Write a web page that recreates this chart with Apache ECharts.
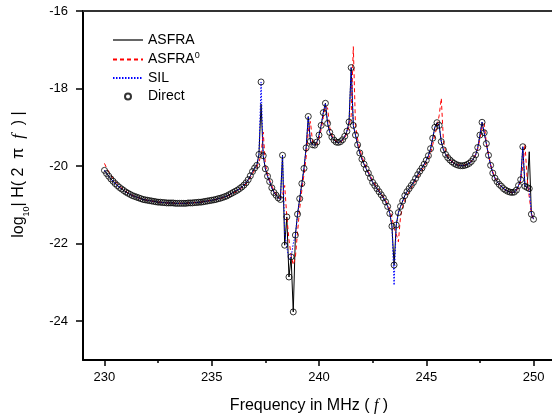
<!DOCTYPE html>
<html><head><meta charset="utf-8">
<script src="https://cdn.jsdelivr.net/npm/echarts@6/dist/echarts.min.js"></script>
<style>html,body{margin:0;padding:0;background:#fff}#c{width:552px;height:416px}</style>
</head><body><div id="c"></div>
<script>
// Frequency grid (MHz)
const freq = [
230.0,230.1,230.2,230.3,230.4,230.5,230.6,230.7,230.8,230.9,
231.0,231.1,231.2,231.3,231.4,231.5,231.6,231.7,231.8,231.9,
232.0,232.1,232.2,232.3,232.4,232.5,232.6,232.7,232.8,232.9,
233.0,233.1,233.2,233.3,233.4,233.5,233.6,233.7,233.8,233.9,
234.0,234.1,234.2,234.3,234.4,234.5,234.6,234.7,234.8,234.9,
235.0,235.1,235.2,235.3,235.4,235.5,235.6,235.7,235.8,235.9,
236.0,236.1,236.2,236.3,236.4,236.5,236.6,236.7,236.8,236.9,
237.0,237.1,237.2,237.3,237.4,237.5,237.6,237.7,237.8,237.9,
238.0,238.1,238.2,238.3,238.4,238.5,238.6,238.7,238.8,238.9,
239.0,239.1,239.2,239.3,239.4,239.5,239.6,239.7,239.8,239.9,
240.0,240.1,240.2,240.3,240.4,240.5,240.6,240.7,240.8,240.9,
241.0,241.1,241.2,241.3,241.4,241.5,241.6,241.7,241.8,241.9,
242.0,242.1,242.2,242.3,242.4,242.5,242.6,242.7,242.8,242.9,
243.0,243.1,243.2,243.3,243.4,243.5,243.6,243.7,243.8,243.9,
244.0,244.1,244.2,244.3,244.4,244.5,244.6,244.7,244.8,244.9,
245.0,245.1,245.2,245.3,245.4,245.5,245.6,245.7,245.8,245.9,
246.0,246.1,246.2,246.3,246.4,246.5,246.6,246.7,246.8,246.9,
247.0,247.1,247.2,247.3,247.4,247.5,247.6,247.7,247.8,247.9,
248.0,248.1,248.2,248.3,248.4,248.5,248.6,248.7,248.8,248.9,
249.0,249.1,249.2,249.3,249.4,249.5,249.6,249.7,249.8,249.9,
250.0];

// Direct (circles)
const direct = [
-20.11,-20.19,-20.26,-20.33,-20.39,-20.45,-20.50,-20.55,-20.59,-20.63,
-20.67,-20.70,-20.73,-20.76,-20.78,-20.80,-20.82,-20.84,-20.86,-20.87,
-20.88,-20.89,-20.90,-20.91,-20.92,-20.93,-20.93,-20.94,-20.94,-20.95,
-20.95,-20.95,-20.95,-20.96,-20.96,-20.96,-20.96,-20.96,-20.96,-20.95,
-20.95,-20.95,-20.94,-20.94,-20.93,-20.93,-20.92,-20.91,-20.90,-20.89,
-20.88,-20.87,-20.86,-20.84,-20.83,-20.81,-20.79,-20.77,-20.74,-20.71,
-20.68,-20.65,-20.62,-20.58,-20.54,-20.49,-20.43,-20.35,-20.25,-20.14,
-20.05,-19.98,-19.70,-17.83,-19.73,-20.07,-20.26,-20.40,-20.56,-20.68,
-20.75,-20.82,-20.86,-19.72,-22.04,-21.31,-22.86,-22.34,-23.76,-21.78,
-21.24,-20.84,-20.45,-20.06,-19.53,-18.72,-19.36,-19.45,-19.46,-19.38,
-19.20,-18.95,-18.62,-18.38,-18.90,-19.13,-19.25,-19.33,-19.38,-19.39,
-19.37,-19.32,-19.23,-19.10,-18.86,-17.46,-18.95,-19.20,-19.45,-19.66,
-19.82,-19.95,-20.07,-20.18,-20.30,-20.42,-20.50,-20.58,-20.66,-20.74,
-20.82,-20.92,-21.04,-21.22,-21.55,-22.55,-21.52,-21.20,-21.04,-20.90,
-20.76,-20.66,-20.58,-20.50,-20.42,-20.32,-20.22,-20.13,-20.05,-19.95,
-19.85,-19.73,-19.55,-19.28,-19.00,-18.88,-18.95,-19.37,-19.58,-19.70,
-19.78,-19.84,-19.89,-19.93,-19.96,-19.98,-19.99,-19.99,-19.98,-19.96,
-19.93,-19.88,-19.81,-19.71,-19.52,-19.20,-18.87,-19.14,-19.42,-19.72,
-19.98,-20.18,-20.31,-20.40,-20.47,-20.52,-20.58,-20.62,-20.65,-20.67,
-20.68,-20.67,-20.62,-20.50,-20.35,-19.50,-20.52,-20.55,-20.58,-21.24,
-21.37];

// ASFRA (black solid)
const asfra = [
-20.11,-20.19,-20.26,-20.33,-20.39,-20.45,-20.50,-20.55,-20.59,-20.63,
-20.67,-20.70,-20.73,-20.76,-20.78,-20.80,-20.82,-20.84,-20.86,-20.87,
-20.88,-20.89,-20.90,-20.91,-20.92,-20.93,-20.93,-20.94,-20.94,-20.95,
-20.95,-20.95,-20.95,-20.96,-20.96,-20.96,-20.96,-20.96,-20.96,-20.95,
-20.95,-20.95,-20.94,-20.94,-20.93,-20.93,-20.92,-20.91,-20.90,-20.89,
-20.88,-20.87,-20.86,-20.84,-20.83,-20.81,-20.79,-20.77,-20.74,-20.71,
-20.68,-20.65,-20.62,-20.58,-20.54,-20.49,-20.43,-20.35,-20.25,-20.14,
-20.05,-19.98,-19.70,-18.40,-19.73,-20.07,-20.26,-20.40,-20.56,-20.68,
-20.75,-20.82,-20.86,-19.72,-22.04,-21.31,-22.86,-22.34,-23.76,-21.78,
-21.24,-20.84,-20.45,-20.06,-19.53,-18.72,-19.36,-19.45,-19.46,-19.38,
-19.20,-18.95,-18.62,-18.38,-18.90,-19.13,-19.25,-19.33,-19.38,-19.39,
-19.37,-19.32,-19.23,-19.10,-18.86,-17.46,-18.95,-19.20,-19.45,-19.66,
-19.82,-19.95,-20.07,-20.18,-20.30,-20.42,-20.50,-20.58,-20.66,-20.74,
-20.82,-20.92,-21.04,-21.22,-21.55,-22.55,-21.52,-21.20,-21.04,-20.90,
-20.76,-20.66,-20.58,-20.50,-20.42,-20.32,-20.22,-20.13,-20.05,-19.95,
-19.85,-19.73,-19.55,-19.28,-19.00,-18.88,-18.95,-19.37,-19.58,-19.70,
-19.78,-19.84,-19.89,-19.93,-19.96,-19.98,-19.99,-19.99,-19.98,-19.96,
-19.93,-19.88,-19.81,-19.71,-19.52,-19.20,-18.87,-19.14,-19.42,-19.72,
-19.98,-20.18,-20.31,-20.40,-20.47,-20.52,-20.58,-20.62,-20.65,-20.67,
-20.68,-20.67,-20.62,-20.50,-20.35,-19.50,-20.52,-20.55,-19.63,-21.24,
-21.37];

// ASFRA0 (red dashed)
const asfra0 = [
-19.93,-20.05,-20.15,-20.24,-20.32,-20.39,-20.45,-20.51,-20.56,-20.61,
-20.65,-20.69,-20.72,-20.75,-20.78,-20.80,-20.82,-20.84,-20.86,-20.87,
-20.88,-20.89,-20.90,-20.91,-20.92,-20.93,-20.93,-20.94,-20.94,-20.95,
-20.95,-20.95,-20.95,-20.96,-20.96,-20.96,-20.96,-20.96,-20.96,-20.95,
-20.95,-20.95,-20.94,-20.94,-20.93,-20.93,-20.92,-20.91,-20.90,-20.89,
-20.88,-20.87,-20.86,-20.85,-20.84,-20.82,-20.80,-20.78,-20.76,-20.73,
-20.70,-20.67,-20.64,-20.60,-20.56,-20.52,-20.46,-20.39,-20.30,-20.20,
-20.10,-20.02,-19.90,-19.70,-19.12,-19.95,-20.20,-20.36,-20.50,-20.63,
-20.72,-20.79,-20.84,-20.75,-20.50,-21.30,-21.90,-22.30,-22.55,-22.35,
-21.70,-21.10,-20.62,-20.22,-19.78,-19.10,-18.85,-19.38,-19.47,-19.43,
-19.30,-19.05,-18.75,-18.45,-18.50,-19.00,-19.20,-19.30,-19.36,-19.39,
-19.38,-19.34,-19.27,-19.16,-18.98,-18.70,-16.92,-18.95,-19.30,-19.55,
-19.75,-19.90,-20.03,-20.14,-20.26,-20.37,-20.46,-20.55,-20.63,-20.71,
-20.79,-20.88,-20.98,-21.12,-21.32,-21.60,-21.75,-21.95,-21.30,-21.05,
-20.88,-20.76,-20.66,-20.57,-20.48,-20.39,-20.29,-20.20,-20.11,-20.02,
-19.92,-19.82,-19.67,-19.45,-19.20,-18.98,-18.70,-18.25,-19.35,-19.62,
-19.74,-19.82,-19.88,-19.92,-19.95,-19.97,-19.98,-19.98,-19.97,-19.95,
-19.92,-19.87,-19.80,-19.70,-19.55,-19.30,-19.00,-18.90,-19.40,-19.70,
-19.96,-20.15,-20.29,-20.39,-20.47,-20.53,-20.58,-20.62,-20.65,-20.67,
-20.68,-20.67,-20.63,-20.55,-20.38,-20.00,-19.43,-20.30,-20.80,-21.20,
-21.40];

// SIL (blue dotted)
const sil = [
-20.11,-20.19,-20.26,-20.33,-20.39,-20.45,-20.50,-20.55,-20.59,-20.63,
-20.67,-20.70,-20.73,-20.76,-20.78,-20.80,-20.82,-20.84,-20.86,-20.87,
-20.88,-20.89,-20.90,-20.91,-20.92,-20.93,-20.93,-20.94,-20.94,-20.95,
-20.95,-20.95,-20.95,-20.96,-20.96,-20.96,-20.96,-20.96,-20.96,-20.95,
-20.95,-20.95,-20.94,-20.94,-20.93,-20.93,-20.92,-20.91,-20.90,-20.89,
-20.88,-20.87,-20.86,-20.84,-20.83,-20.81,-20.79,-20.77,-20.74,-20.71,
-20.68,-20.65,-20.62,-20.58,-20.54,-20.49,-20.43,-20.35,-20.25,-20.14,
-20.05,-19.98,-19.70,-17.83,-19.73,-20.07,-20.26,-20.40,-20.56,-20.68,
-20.75,-20.82,-20.86,-19.72,-21.70,-22.10,-22.40,-22.35,-22.00,-21.78,
-21.24,-20.84,-20.45,-20.06,-19.53,-18.72,-19.36,-19.45,-19.46,-19.38,
-19.20,-18.95,-18.62,-18.38,-18.90,-19.13,-19.25,-19.33,-19.38,-19.39,
-19.37,-19.32,-19.23,-19.10,-18.86,-17.46,-18.95,-19.20,-19.45,-19.66,
-19.82,-19.95,-20.07,-20.18,-20.30,-20.42,-20.50,-20.58,-20.66,-20.74,
-20.82,-20.92,-21.04,-21.22,-21.55,-23.07,-21.52,-21.20,-21.04,-20.90,
-20.76,-20.66,-20.58,-20.50,-20.42,-20.32,-20.22,-20.13,-20.05,-19.95,
-19.85,-19.73,-19.55,-19.28,-19.00,-18.88,-18.95,-19.37,-19.58,-19.70,
-19.78,-19.84,-19.89,-19.93,-19.96,-19.98,-19.99,-19.99,-19.98,-19.96,
-19.93,-19.88,-19.81,-19.71,-19.52,-19.20,-18.87,-19.14,-19.42,-19.72,
-19.98,-20.18,-20.31,-20.40,-20.47,-20.52,-20.58,-20.62,-20.65,-20.67,
-20.68,-20.67,-20.62,-20.50,-20.35,-19.50,-20.52,-20.55,-20.58,-21.24,
-21.37];

const xTicks = [230, 235, 240, 245, 250];
const xMinorTicks = [232.5, 237.5, 242.5, 247.5];
const yTicks = [-24, -22, -20, -18, -16];

const FONT = '"Liberation Sans", Arial, sans-serif';
const SERIF = '"Liberation Serif", "Times New Roman", serif';
const pairs = arr => freq.map((f, i) => [f, arr[i]]);
const hideSym = {color: 'rgba(0,0,0,0)', borderWidth: 0, borderColor: 'rgba(0,0,0,0)'};

const chart = echarts.init(document.getElementById('c'), null, {renderer: 'canvas'});
chart.setOption({
  animation: false,
  grid: {left: 83, top: 11, right: -3, bottom: 56, show: false, outerBoundsMode: 'none', containLabel: false},
  legend: {
    orient: 'vertical', left: 107, top: 28, padding: 5,
    itemWidth: 30, itemHeight: 6, itemGap: 4.5,
    data: [
      {name: 'ASFRA', lineStyle: {color: '#666', width: 2}, itemStyle: hideSym},
      {name: 'ASFRA0', itemStyle: hideSym},
      {name: 'SIL', itemStyle: hideSym},
      {name: 'Direct'}
    ],
    formatter: n => n === 'ASFRA0' ? '{t|ASFRA}{s|0}' : '{t|' + n + '}',
    textStyle: {
      color: '#000', fontFamily: FONT, fontSize: 14,
      rich: {
        t: {fontFamily: FONT, fontSize: 14, color: '#000', lineHeight: 16},
        s: {fontFamily: FONT, fontSize: 9, color: '#000', verticalAlign: 'top', lineHeight: 8}
      }
    }
  },
  xAxis: [{
    type: 'value', min: 229, max: 251, position: 'bottom',
    axisLine: {show: true, onZero: false, lineStyle: {color: '#000', width: 2}},
    axisTick: {show: true, customValues: xTicks, length: 6, lineStyle: {color: '#000', width: 1.5}},
    axisLabel: {customValues: xTicks, margin: 11, color: '#000', fontSize: 13, fontFamily: FONT},
    splitLine: {show: false},
    name: '{n|Frequency in MHz ( }{i|f}{n| )}', nameLocation: 'middle', nameGap: 38,
    nameTextStyle: {
      color: '#000', fontSize: 16, fontFamily: FONT, padding: [0, 20, 0, 0],
      rich: {
        n: {fontFamily: FONT, fontSize: 16, color: '#000'},
        i: {fontFamily: SERIF, fontStyle: 'italic', fontSize: 16, color: '#000'}
      }
    }
  }, {
    type: 'value', min: 229, max: 251, position: 'bottom',
    axisLine: {show: false, onZero: false},
    axisTick: {show: true, customValues: xMinorTicks, length: 3, lineStyle: {color: '#000', width: 1.5}},
    axisLabel: {show: false}, splitLine: {show: false}
  }, {
    type: 'value', min: 229, max: 251, position: 'top',
    axisLine: {show: true, onZero: false, lineStyle: {color: '#333', width: 2}},
    axisTick: {show: false}, axisLabel: {show: false}, splitLine: {show: false}
  }],
  yAxis: {
    type: 'value', min: -25, max: -16,
    axisLine: {show: true, onZero: false, lineStyle: {color: '#000', width: 2}},
    axisTick: {show: true, customValues: yTicks, length: 7, lineStyle: {color: '#000', width: 1.5}},
    axisLabel: {customValues: yTicks, margin: 15, color: '#000', fontSize: 13, fontFamily: FONT},
    splitLine: {show: false},
    name: '{n|log}{sub|10}{n|| H( 2  π  }{i|f}{n|  ) |}', nameLocation: 'middle', nameGap: 52, nameRotate: 90,
    nameTextStyle: {
      color: '#000', fontSize: 16, fontFamily: FONT, padding: [0, 0, 0, 22],
      rich: {
        n: {fontFamily: FONT, fontSize: 16, color: '#000', lineHeight: 24},
        sub: {fontFamily: FONT, fontSize: 9, color: '#000', verticalAlign: 'bottom', lineHeight: 12},
        i: {fontFamily: SERIF, fontStyle: 'italic', fontSize: 17, color: '#000', lineHeight: 24}
      }
    }
  },
  series: [
    {name: 'ASFRA', type: 'line', data: pairs(asfra), symbol: 'none', z: 2,
     lineStyle: {color: '#000', width: 1}, itemStyle: {color: '#000'}},
    {name: 'ASFRA0', type: 'line', data: pairs(asfra0), symbol: 'none', z: 3,
     lineStyle: {color: '#ff0000', width: 1, type: [4, 3]}, itemStyle: {color: '#ff0000'}},
    {name: 'SIL', type: 'line', data: pairs(sil), symbol: 'none', z: 4,
     lineStyle: {color: '#0000ff', width: 1, type: [1.5, 1.5]}, itemStyle: {color: '#0000ff'}},
    {name: 'Direct', type: 'scatter', data: pairs(direct), symbol: 'circle', symbolSize: 6, z: 5,
     itemStyle: {color: 'rgba(0,0,0,0)', borderColor: '#000', borderWidth: 1}}
  ]
});
</script>
</body></html>
